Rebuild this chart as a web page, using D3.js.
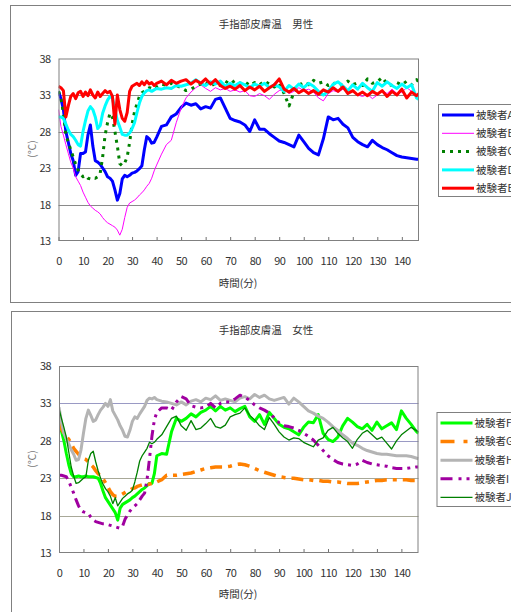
<!DOCTYPE html>
<html>
<head>
<meta charset="utf-8">
<script src="https://cdn.jsdelivr.net/npm/d3@7"></script>
<style>
  body { margin: 0; background: #fff; }
  text { font-family: "Noto Sans CJK JP", sans-serif; }
</style>
</head>
<body>
<script>
// time in minutes (shared by every series)
const minutes = [
  0, 1, 2, 3, 4, 5, 6, 7, 8, 9,
  10, 11, 12, 13, 14, 15, 16, 17, 18, 19,
  20, 21, 22, 23, 24, 25, 26, 27, 28, 29,
  30, 31, 32, 33, 34, 35, 36, 37, 38, 39, 40,
  42, 44, 46, 48, 50, 52, 54, 56, 58, 60,
  62, 64, 66, 68, 70, 72, 74, 76, 78, 80,
  82, 84, 86, 88, 90, 92, 94, 96, 98, 100,
  102, 104, 106, 108, 110, 112, 114, 116, 118, 120,
  122, 124, 126, 128, 130, 132, 134, 136, 138, 140,
  142, 144, 146, 147
];
const xTicks = [0, 10, 20, 30, 40, 50, 60, 70, 80, 90, 100, 110, 120, 130, 140];
const yTicks = [13, 18, 23, 28, 33, 38];
const gridValues = [18, 23, 28, 33];

const maleNames = ["被験者A", "被験者B", "被験者C", "被験者D", "被験者E"];
const femaleNames = ["被験者F", "被験者G", "被験者H", "被験者I", "被験者J"];

// male subjects
const subjA = [
  33.5, 32.5, 31, 28, 26.5, 25, 24, 22, 22.5, 25,
  25, 25.2, 27.5, 28.9, 26, 24, 23.8, 23.5, 23, 22.5,
  21.8, 21.6, 21.2, 20, 18.6, 19.5, 21.5, 22, 21.8, 22,
  22.3, 22.4, 22.6, 22.9, 23.3, 25.5, 27.3, 27, 26.4, 26.5, 27.2,
  28.7, 28.9, 30, 30.4, 31.3, 31.9, 31.6, 31.8, 31.1, 31.4,
  31.2, 32.4, 32.6, 31.2, 29.8, 29.5, 29.3, 28.9, 28.0, 29.6,
  28.3, 28.3, 27.7, 27.2, 26.7, 26.5, 26.2, 25.9, 27.5, 26.6,
  25.7, 25.1, 24.8, 27.0, 30.0, 29.6, 29.8, 29.0, 28.5, 27.2,
  26.6, 26.2, 25.9, 26.8, 26.2, 25.8, 25.5, 25.1, 24.7, 24.5,
  24.4, 24.3, 24.2, 24.2
];
const subjB = [
  31, 28.7, 27.5, 26.2, 25, 23.8, 23, 21.8, 21.2, 20.6,
  19.7, 19.0, 18.3, 17.8, 17.5, 17.2, 17.0, 16.7, 16.2, 15.8,
  15.5, 15.3, 15.1, 14.9, 14.5, 13.8, 14.6, 16.2, 17.6, 18.2,
  18.4, 18.6, 18.9, 19.3, 19.6, 20.0, 20.5, 20.9, 21.6, 22.6, 23.4,
  24.9, 26.2, 26.8, 29.2, 31.2, 32.6, 33.4, 34.0, 34.4, 33.9,
  33.5, 34.0, 33.7, 33.9, 33.5, 33.7, 33.4, 33.6, 32.9, 32.8,
  33.2, 32.9, 32.4, 33.1, 33.6, 33.8, 33.2, 33.5, 34.0, 33.6,
  33.8, 33.4, 32.6, 32.2, 33.2, 33.6, 33.4, 33.8, 33.3, 33.5,
  33.0, 32.8, 33.1, 32.5, 33.0, 33.6, 33.2, 33.8, 33.2, 33.4,
  34.0, 33.5, 33.0, 32.8
];
const subjC = [
  33.5, 32.5, 30.5, 27.5, 26.5, 25.5, 24.5, 23.5, 22.7, 22.2,
  21.8, 22.0, 21.6, 21.5, 21.7, 21.6, 21.8, 22.3, 24.5, 27.5,
  29.2, 30.5, 30.0, 28.0, 26.0, 23.6, 23.3, 23.7, 24.5, 26.5,
  29.0, 30.7, 31.8, 32.8, 33.3, 33.5, 33.8, 34.0, 33.9, 34.2, 34.1,
  34.5, 34.3, 34.6, 34.3, 34.0, 33.6, 33.8, 34.2, 34.5, 34.8,
  34.2, 34.6, 34.3, 34.9, 34.5, 35.0, 34.6, 34.8, 34.3, 34.7,
  34.4, 34.9, 34.5, 34.1, 34.6, 33.2, 31.5, 33.4, 34.3, 34.8,
  34.4, 35.0, 34.6, 34.8, 34.3, 34.7, 34.2, 34.5, 34.9, 34.4,
  34.7, 34.3, 35.2, 34.6, 34.8, 35.4, 34.5, 34.3, 34.7, 34.4,
  34.9, 34.4, 35.1, 34.8
];
const subjD = [
  30, 30, 29.8, 29, 28.2, 27.6, 27.3, 26.8, 26.2, 26.0,
  28.0, 29.5, 30.8, 31.4, 31.0, 30.0, 28.4, 28.8, 30.5, 31.5,
  32.3, 32.8, 32.6, 31.0, 29.5, 28.6, 27.6, 27.5, 27.5, 27.8,
  28.4, 29.2, 30.6, 31.9, 32.8, 33.3, 33.6, 33.7, 33.5, 33.7, 33.9,
  33.8, 34.0, 33.9, 34.3, 34.2, 34.4, 34.6, 35.1, 34.6, 34.3,
  34.8, 34.5, 34.9, 34.2, 34.6, 34.3, 34.7, 34.4, 34.0, 34.5,
  34.2, 34.6, 34.0, 34.4, 34.1, 33.5, 34.3, 33.8, 34.5, 34.0,
  34.6, 34.2, 33.5, 33.0, 33.5, 34.5, 34.8, 34.2, 33.6, 34.4,
  33.8, 34.6, 34.0, 33.5, 34.7, 34.2, 34.8, 34.3, 33.9, 34.5,
  34.0, 34.4, 32.6, 32.4
];
const subjE = [
  34.2, 34.0, 33.6, 30.0, 31.5, 32.8, 33.2, 32.5, 33.3, 33.5,
  32.8, 33.4, 32.9, 33.7, 33.0, 32.6, 33.4, 32.8, 33.2, 33.6,
  33.3, 33.5, 32.8, 29.0, 33.0, 31.0, 29.8, 29.4, 30.6, 33.5,
  34.2, 34.4, 34.6, 34.3, 34.8, 34.4, 34.9, 34.5, 34.7, 34.3, 34.6,
  34.9, 34.4, 35.0, 34.6, 34.9, 35.1, 34.5, 35.0, 34.6, 35.2,
  34.5, 35.1, 34.3, 33.9, 34.2, 33.8, 34.3, 33.6, 34.1, 33.7,
  34.2, 33.5, 34.0, 34.4, 35.2, 33.8, 33.4, 33.9, 33.3, 33.7,
  33.2, 33.6, 33.1, 33.7, 33.4, 34.0, 33.5, 34.1, 33.2, 33.6,
  33.0, 33.4, 32.9, 33.5, 33.1, 33.6, 32.8, 33.5, 33.0, 33.8,
  32.6, 33.4, 32.9, 33.2
];

// female subjects
const subjF = [
  30.1, 29.3, 28.0, 26.3, 24.8, 23.6, 23.2, 23.2, 23.3, 23.2,
  23.2, 23.3, 23.2, 23.2, 23.2, 23.1, 23.0, 22.3, 21.3, 20.4,
  19.9, 19.4, 18.9, 18.4, 17.4, 19.0, 19.5, 19.7, 19.9, 20.1,
  20.4, 20.6, 20.9, 21.2, 21.5, 21.7, 22.0, 22.3, 22.3, 23.6, 26.0,
  26.3, 26.2, 29.2, 31.0, 30.6, 31.0, 31.6, 31.2, 31.8, 32.1,
  32.6, 32.0, 32.6, 32.1, 32.4, 31.9, 32.3, 32.6, 31.2, 30.6,
  31.5, 30.2, 31.8, 31.0, 30.2, 29.8, 29.6, 29.2, 28.8, 29.8,
  30.5, 30.4, 31.5, 29.0, 28.2, 27.9, 28.5, 30.0, 31.0, 30.5,
  29.9, 29.6, 30.2, 29.4, 30.5, 29.6, 30.0, 30.4, 29.5, 32.0,
  31.0, 30.2, 29.3, 29.0
];
const subjG = [
  30.5, 29.6, 29.0, 28.6, 28.2, 27.6, 27.0, 26.6, 26.2, 25.8,
  25.6, 25.5, 25.2, 24.8, 24.5, 24.0, 23.6, 23.3, 22.9, 22.4,
  21.8, 21.2, 20.8, 20.6, 20.6, 20.7, 20.9, 21.1, 21.3, 21.4,
  21.6, 21.7, 21.9, 22.0, 22.1, 22.1, 22.2, 22.2, 22.3, 22.3, 22.5,
  22.8, 23.4, 23.4, 23.4, 23.5, 23.6, 23.7, 23.9, 24.1, 24.3,
  24.4, 24.5, 24.5, 24.5, 24.6, 24.8, 24.9, 24.8, 24.6, 24.3,
  24.0, 23.8, 23.6, 23.4, 23.2, 23.1, 23.0, 23.0, 22.9, 22.8,
  22.8, 22.7, 22.7, 22.6, 22.6, 22.5, 22.5, 22.4, 22.3, 22.3,
  22.3, 22.4, 22.5, 22.6, 22.7, 22.7, 22.8, 22.8, 22.8, 22.8,
  22.8, 22.7, 22.7, 22.7
];
const subjH = [
  32.5, 30.5, 29.0, 28.2, 27.6, 26.8, 26.2, 25.4, 25.5, 26.8,
  29.0, 31.0, 32.1, 31.4, 30.6, 30.8, 31.5, 32.1, 32.5, 33.0,
  32.6, 33.5, 32.0, 31.4, 30.8, 30.0, 29.4, 28.6, 28.5, 29.4,
  30.6, 31.2, 31.0, 31.6, 32.1, 32.6, 33.4, 33.7, 33.6, 33.8, 33.5,
  33.3, 33.2, 33.0, 32.8, 33.2, 32.8, 33.3, 33.5, 33.2, 33.7,
  33.5, 34.0, 33.4, 33.6, 33.4, 33.2, 33.7, 33.9, 33.6, 34.2,
  33.8, 34.1, 33.6, 33.4, 33.6, 33.8, 32.9, 33.7, 33.2, 32.6,
  32.0, 31.7, 31.3, 31.0, 30.5, 29.9, 29.4, 28.8, 28.3, 27.7,
  27.4, 27.0, 26.7, 26.5, 26.3, 26.2, 26.2, 26.1, 26.0, 26.0,
  26.0, 25.9, 25.7, 25.6
];
const subjI = [
  23.4, 23.4, 23.3, 23.2, 22.6, 21.8, 21.0, 20.1, 19.3, 18.7,
  18.5, 18.4, 18.3, 17.8, 17.4, 17.2, 17.1, 17.0, 16.9, 16.9,
  16.8, 16.7, 16.6, 16.5, 16.4, 16.3, 16.6, 17.5, 18.1, 18.6,
  19.0, 19.3, 19.6, 20.1, 20.6, 21.0, 22.8, 25.6, 28.6, 30.8, 31.8,
  32.4, 32.4, 32.1, 33.2, 33.9, 33.6, 32.7, 32.5, 32.4, 32.5,
  33.0, 32.4, 33.0, 33.2, 33.2, 33.6, 34.1, 33.8, 33.4, 32.8,
  32.4, 32.1, 31.7, 31.1, 30.4, 30.0, 29.9, 29.7, 29.4, 29.0,
  28.6, 28.1, 27.4, 26.7, 26.0, 25.5, 25.1, 24.9, 24.8, 24.7,
  24.9, 25.4, 25.1, 24.9, 24.8, 24.7, 24.6, 24.4, 24.3, 24.3,
  24.3, 24.4, 24.5, 24.5
];
const subjJ = [
  32.3, 31.0, 29.8, 28.5, 26.5, 24.5, 23.3, 22.3, 22.4, 22.7,
  23.0, 23.2, 25.4, 26.3, 26.6, 25.2, 24.0, 23.0, 22.2, 21.6,
  21.2, 20.6, 19.6, 20.4, 19.3, 19.8, 20.3, 20.6, 20.9, 21.1,
  21.4, 22.5, 23.8, 25.3, 26.0, 26.5, 27.0, 27.8, 27.6, 27.8, 28.2,
  28.8, 29.9, 31.0, 31.3, 30.0, 29.4, 30.7, 29.5, 29.7, 30.3,
  31.0, 29.9, 29.7, 30.1, 31.2, 31.5, 31.7, 32.4, 31.4, 30.8,
  30.0, 29.5, 31.1, 30.2, 29.2, 28.5, 28.1, 28.4, 28.3, 27.8,
  27.5, 27.2, 28.1, 28.4, 29.4, 29.8, 29.0, 28.4, 27.9, 27.0,
  28.2, 29.0, 29.4, 28.8, 28.2, 28.5, 27.7, 26.9, 28.0, 28.8,
  29.3, 29.8, 29.4, 29.2
];

const svg = d3.select("body")
  .append("svg")
  .attr("width", 511)
  .attr("height", 612);

function drawChart(opt) {
  const g = svg.append("g");

  // outer chart frame (runs off the right edge)
  g.append("rect")
    .attr("x", opt.frame[0]).attr("y", opt.frame[1])
    .attr("width", opt.frame[2]).attr("height", opt.frame[3])
    .attr("fill", "#fff").attr("stroke", "#808080");

  const p = opt.plot;
  const x = d3.scaleLinear().domain([0, 147]).range([p.left, p.right]);
  const y = d3.scaleLinear().domain([13, 38]).range([p.bottom, p.top]);

  g.append("rect")
    .attr("x", p.left).attr("y", p.top)
    .attr("width", p.right - p.left).attr("height", p.bottom - p.top)
    .attr("fill", "#fff");

  g.selectAll(".grid")
    .data(gridValues)
    .enter()
    .append("line")
    .attr("x1", p.left).attr("x2", p.right)
    .attr("y1", d => Math.round(y(d)) + 0.5)
    .attr("y2", d => Math.round(y(d)) + 0.5)
    .attr("stroke", d => opt.gridColor(d))
    .attr("stroke-width", 1);

  const xAxis = d3.axisBottom(x)
    .tickValues(xTicks)
    .tickSizeInner(-4)
    .tickSizeOuter(0)
    .tickPadding(16);
  const xg = g.append("g")
    .attr("transform", "translate(0," + p.bottom + ")")
    .call(xAxis);
  xg.select(".domain").remove();
  xg.selectAll("line").attr("stroke", "#707070");
  xg.selectAll("text").attr("font-size", 11).attr("fill", "#333")
    .style("font-family", '"Noto Sans CJK JP", sans-serif')
    .attr("letter-spacing", "-0.6");

  const yAxis = d3.axisLeft(y)
    .tickValues(yTicks)
    .tickSize(0)
    .tickPadding(8);
  const yg = g.append("g")
    .attr("transform", "translate(" + p.left + ",0)")
    .call(yAxis);
  yg.select(".domain").remove();
  yg.selectAll("text").attr("font-size", 11).attr("fill", "#333")
    .style("font-family", '"Noto Sans CJK JP", sans-serif')
    .attr("letter-spacing", "-0.6");

  // clip lines to the plot area
  const clipId = "clip" + opt.id;
  g.append("clipPath").attr("id", clipId)
    .append("rect")
    .attr("x", p.left).attr("y", p.top)
    .attr("width", p.right - p.left).attr("height", p.bottom - p.top);

  const line = d3.line()
    .x(d => x(d[0]))
    .y(d => y(d[1]));

  const lines = g.append("g").attr("clip-path", "url(#" + clipId + ")");
  opt.series.forEach((s, i) => {
    const pts = minutes.map((t, j) => [t, s[j]]).filter(d => d[1] !== undefined);
    lines.append("path")
      .datum(pts)
      .attr("d", line)
      .attr("fill", "none")
      .attr("stroke", opt.colors[i])
      .attr("stroke-width", opt.widths[i])
      .attr("stroke-linejoin", "round")
      .attr("stroke-dasharray", opt.dashes[i]);
  });

  // plot border
  g.append("rect")
    .attr("x", p.left + 0.5).attr("y", p.top + 0.5)
    .attr("width", p.right - p.left - 1).attr("height", p.bottom - p.top - 1)
    .attr("fill", "none").attr("stroke", "#808080");

  // titles
  g.append("text")
    .attr("x", opt.titleX).attr("y", opt.titleY)
    .attr("text-anchor", "middle")
    .attr("font-size", 10.5).attr("fill", "#333")
    .text(opt.title);

  g.append("text")
    .attr("x", 238).attr("y", opt.xTitleY)
    .attr("text-anchor", "middle")
    .attr("font-size", 10.5).attr("fill", "#333")
    .text("時間(分)");

  g.append("text")
    .attr("transform", "translate(36," + opt.yTitleY + ") rotate(-90)")
    .attr("text-anchor", "middle")
    .attr("font-size", 10.5).attr("fill", "#777")
    .text("(℃)");

  // legend
  const L = opt.legend;
  const legend = g.append("g");
  legend.append("rect")
    .attr("x", L.x + 0.5).attr("y", L.y + 0.5)
    .attr("width", 120).attr("height", L.h)
    .attr("fill", "#fff").attr("stroke", "#808080");
  opt.names.forEach((name, i) => {
    const ly = L.row0 + i * L.step;
    legend.append("line")
      .attr("x1", L.x + 4).attr("x2", L.x + 36)
      .attr("y1", ly).attr("y2", ly)
      .attr("stroke", opt.colors[i])
      .attr("stroke-width", opt.legendWidths[i])
      .attr("stroke-dasharray", opt.legendDashes[i]);
    legend.append("text")
      .attr("x", L.x + 38).attr("y", ly)
      .attr("dy", "0.36em")
      .attr("font-size", 10.5).attr("fill", "#333")
      .text(name);
  });
}

drawChart({
  id: "m",
  frame: [10.5, 5.5, 520, 297],
  plot: { left: 58.5, right: 419, top: 58.5, bottom: 241 },
  title: "手指部皮膚温　男性",
  titleX: 266, titleY: 28,
  xTitleY: 287, yTitleY: 149,
  gridColor: () => "#8a8a8a",
  series: [subjA, subjB, subjC, subjD, subjE],
  names: maleNames,
  colors: ["#0000ff", "#ff00ff", "#008000", "#00ffff", "#ff0000"],
  widths: [3, 1, 3, 3, 3],
  dashes: [null, null, "3,5", null, null],
  legendWidths: [3, 1, 3, 3, 3],
  legendDashes: [null, null, "3,5", null, null],
  legend: { x: 438, y: 104, h: 92, row0: 115, step: 18.3 }
});

drawChart({
  id: "f",
  frame: [11.5, 311.5, 520, 320],
  plot: { left: 59, right: 418.5, top: 366, bottom: 553 },
  title: "手指部皮膚温　女性",
  titleX: 266, titleY: 334,
  xTitleY: 598, yTitleY: 459,
  gridColor: d => (d >= 28 ? "#9a9ac4" : "#a8a898"),
  series: [subjF, subjG, subjH, subjI, subjJ],
  names: femaleNames,
  colors: ["#00ff00", "#ff8000", "#b4b4b4", "#a000a0", "#008000"],
  widths: [3, 3.5, 3, 3, 1.3],
  dashes: [null, "12,6,4,6", null, "10,5,3,5,3,5", null],
  legendWidths: [3, 3.5, 3, 3, 1.3],
  legendDashes: [null, "14,9,4,9", null, "12,6,3,5,3,5", null],
  legend: { x: 436.5, y: 412, h: 94, row0: 423, step: 18.6 }
});
</script>
</body>
</html>
